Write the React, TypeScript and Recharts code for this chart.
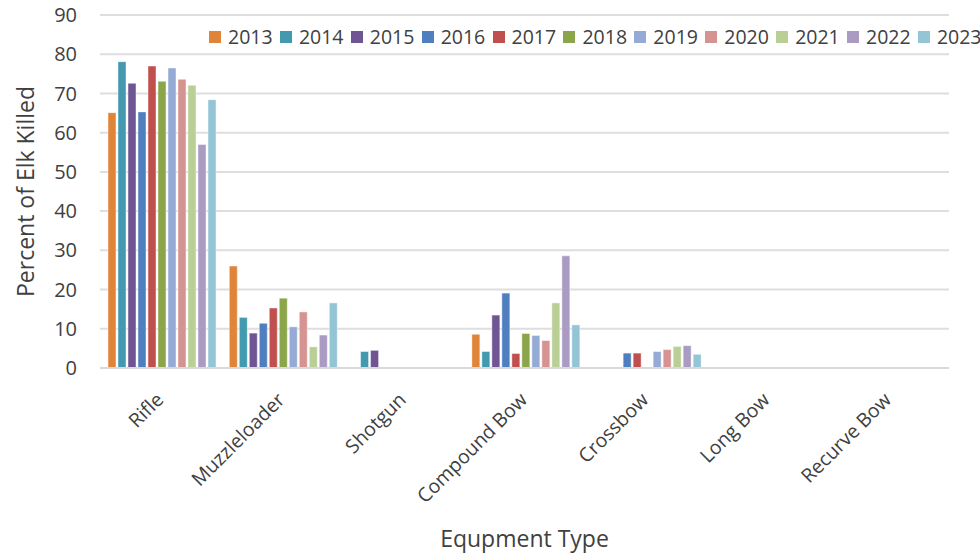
import { BarChart, Bar, XAxis, YAxis, CartesianGrid, Legend, Label } from "recharts";

const FONT = "'Open Sans', 'Noto Sans', sans-serif";

const categories = ["Rifle", "Muzzleloader", "Shotgun", "Compound Bow", "Crossbow", "Long Bow", "Recurve Bow"];
const years = ["2013", "2014", "2015", "2016", "2017", "2018", "2019", "2020", "2021", "2022", "2023"];
const yTicks = [0, 10, 20, 30, 40, 50, 60, 70, 80, 90];

// percent of elk killed, one value per equipment type (same order as categories)
const y2013 = [65.1, 26.0, 0, 8.6, 0, 0, 0];
const y2014 = [78.1, 12.9, 4.2, 4.2, 0, 0, 0];
const y2015 = [72.6, 8.9, 4.5, 13.5, 0, 0, 0];
const y2016 = [65.3, 11.4, 0, 19.1, 3.8, 0, 0];
const y2017 = [77.0, 15.3, 0, 3.7, 3.8, 0, 0];
const y2018 = [73.1, 17.8, 0, 8.8, 0, 0, 0];
const y2019 = [76.5, 10.5, 0, 8.3, 4.2, 0, 0];
const y2020 = [73.6, 14.3, 0, 7.0, 4.7, 0, 0];
const y2021 = [72.1, 5.4, 0, 16.6, 5.5, 0, 0];
const y2022 = [57.0, 8.4, 0, 28.6, 5.7, 0, 0];
const y2023 = [68.4, 16.6, 0, 11.0, 3.5, 0, 0];

const series = [y2013, y2014, y2015, y2016, y2017, y2018, y2019, y2020, y2021, y2022, y2023];
const colors = [
  "#E0843A", "#4299B0", "#6F5594", "#4F7FBE", "#C0504D", "#8BA54B",
  "#95AAD4", "#D59391", "#B9CF95", "#AA9BC2", "#93C5D6",
];

const rows = categories.map((name, i) => {
  const row: Record<string, string | number> = { name };
  years.forEach((yr, j) => { row[yr] = series[j][i]; });
  return row;
});

function CategoryTick({ x, y, payload }: any) {
  const tx = x + 4;
  const ty = y + 33;
  return (
    <text
      x={tx} y={ty} textAnchor="end" transform={`rotate(-45, ${tx}, ${ty})`}
      fill="#404040" fontSize={19.5} fontFamily={FONT}
    >
      {payload.value}
    </text>
  );
}

function LegendRow({ payload }: any) {
  return (
    <div style={{ display: "flex", paddingLeft: 9, fontFamily: FONT, fontSize: 19.5, color: "#404040", lineHeight: "26px" }}>
      {(payload || []).map((p: any) => (
        <div key={p.value} style={{ display: "flex", alignItems: "center", width: 70.9, flex: "none" }}>
          <span style={{ width: 12, height: 12, background: p.color, marginRight: 7, flex: "none" }} />
          <span>{p.value}</span>
        </div>
      ))}
    </div>
  );
}

export default function App() {
  return (
    <div style={{ width: 980, height: 556, background: "#fff" }}>
      <style>{"body{margin:0}"}</style>
      <BarChart
        width={980} height={556} data={rows}
        margin={{ top: 15, right: 31, left: 0, bottom: 0 }}
        barCategoryGap={8} barGap={2}
      >
        <CartesianGrid vertical={false} stroke="#dedede" strokeWidth={2} />
        <XAxis
          dataKey="name" height={188} interval={0}
          tickLine={false} tickSize={0} tickMargin={0}
          axisLine={{ stroke: "#d9d9d9", strokeWidth: 2 }}
          tick={<CategoryTick />}
        >
          <Label
            content={({ viewBox }: any) => (
              <text
                x={viewBox.x + viewBox.width / 2} y={547} textAnchor="middle"
                fill="#404040" fontSize={23} fontFamily={FONT}
              >
                Equpment Type
              </text>
            )}
          />
        </XAxis>
        <YAxis
          width={100} domain={[0, 90]} ticks={yTicks} interval={0}
          axisLine={false} tickLine={false} tickSize={0} tickMargin={23}
          tick={{ fill: "#404040", fontSize: 20, fontFamily: FONT }}
        >
          <Label
            content={({ viewBox }: any) => {
              const cx = 34;
              const cy = viewBox.y + viewBox.height / 2;
              return (
                <text
                  x={cx} y={cy} textAnchor="middle" transform={`rotate(-90, ${cx}, ${cy})`}
                  fill="#404040" fontSize={23} fontFamily={FONT}
                >
                  Percent of Elk Killed
                </text>
              );
            }}
          />
        </YAxis>
        <Legend
          layout="horizontal" verticalAlign="middle" align="center"
          wrapperStyle={{ top: 24, left: 200, width: 780 }}
          content={<LegendRow />}
        />
        {years.map((yr, j) => (
          <Bar
            key={yr} dataKey={yr} fill={colors[j]}
            stroke="rgba(255,255,255,0.45)" strokeWidth={1}
            isAnimationActive={false}
          />
        ))}
      </BarChart>
    </div>
  );
}
